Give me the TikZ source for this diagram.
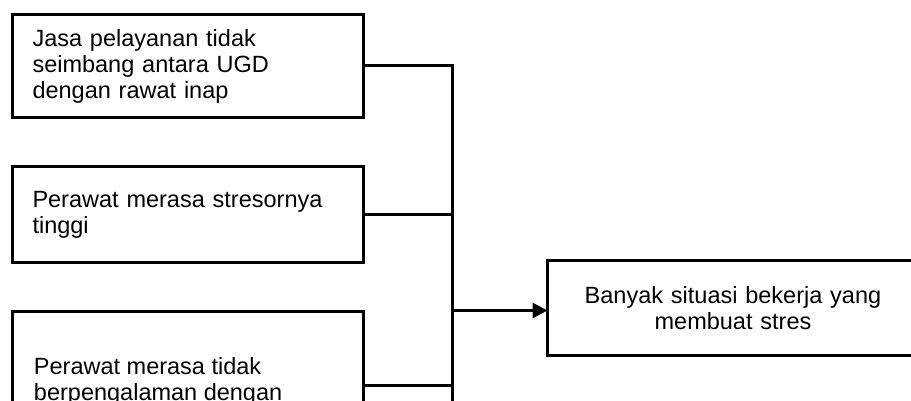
\documentclass[tikz,border=0pt]{standalone}
\usepackage{fontspec}
\setmainfont{Liberation Sans}
\usetikzlibrary{arrows.meta}

\tikzset{every picture/.style={line width=3pt}}
\tikzset{
  causebox/.style={draw, anchor=north west, outer sep=0pt, inner xsep=20pt, inner ysep=0pt, minimum width=351pt, text width=311pt, align=left, font=\fontsize{23.5}{26}\selectfont},
  resultbox/.style={draw, anchor=north west, outer sep=0pt, inner sep=0pt, minimum width=371pt, minimum height=95.5pt, text width=360pt, align=center, font=\fontsize{23.5}{26}\selectfont},
}

\begin{document}
\begin{tikzpicture}[x=1pt,y=1pt,yscale=-1,xscale=1]
\useasboundingbox (0,0) rectangle (911,401);
\clip (0,0) rectangle (911,401);

%Shape: Rectangle
\node[causebox, minimum height=103pt] (jasa) at (12.5,14.5) {Jasa pelayanan tidak\\seimbang antara UGD\\dengan rawat inap};
%Shape: Rectangle
\node[causebox, minimum height=96pt] (tinggi) at (12.5,166.5) {Perawat merasa stresornya\\tinggi};
%Shape: Rectangle
\node[causebox, minimum height=147pt] (tidak) at (12.5,311.5) {};
%Shape: Rectangle
\node[resultbox] (banyak) at (547.5,260) {Banyak situasi bekerja yang\\membuat stres};

% Text Node
\node[anchor=north west, inner sep=0pt, align=left, font=\fontsize{23.5}{26}\selectfont] (tidaktxt) at ([xshift=20pt,yshift=44.3pt]tidak.north west) {Perawat merasa tidak\\berpengalaman dengan};

%Straight Lines
\coordinate (busend) at (452.5,430);
\coordinate (arrowin) at ([yshift=2.75pt]banyak.west);
\draw (jasa.east) -| (busend);
\draw (tinggi.east) -- (tinggi.east -| busend);
\draw (tidak.east) -- (tidak.east -| busend);
\draw[-{Triangle[length=15pt,width=15pt]}] (arrowin -| busend) -- (arrowin);

\end{tikzpicture}
\end{document}
